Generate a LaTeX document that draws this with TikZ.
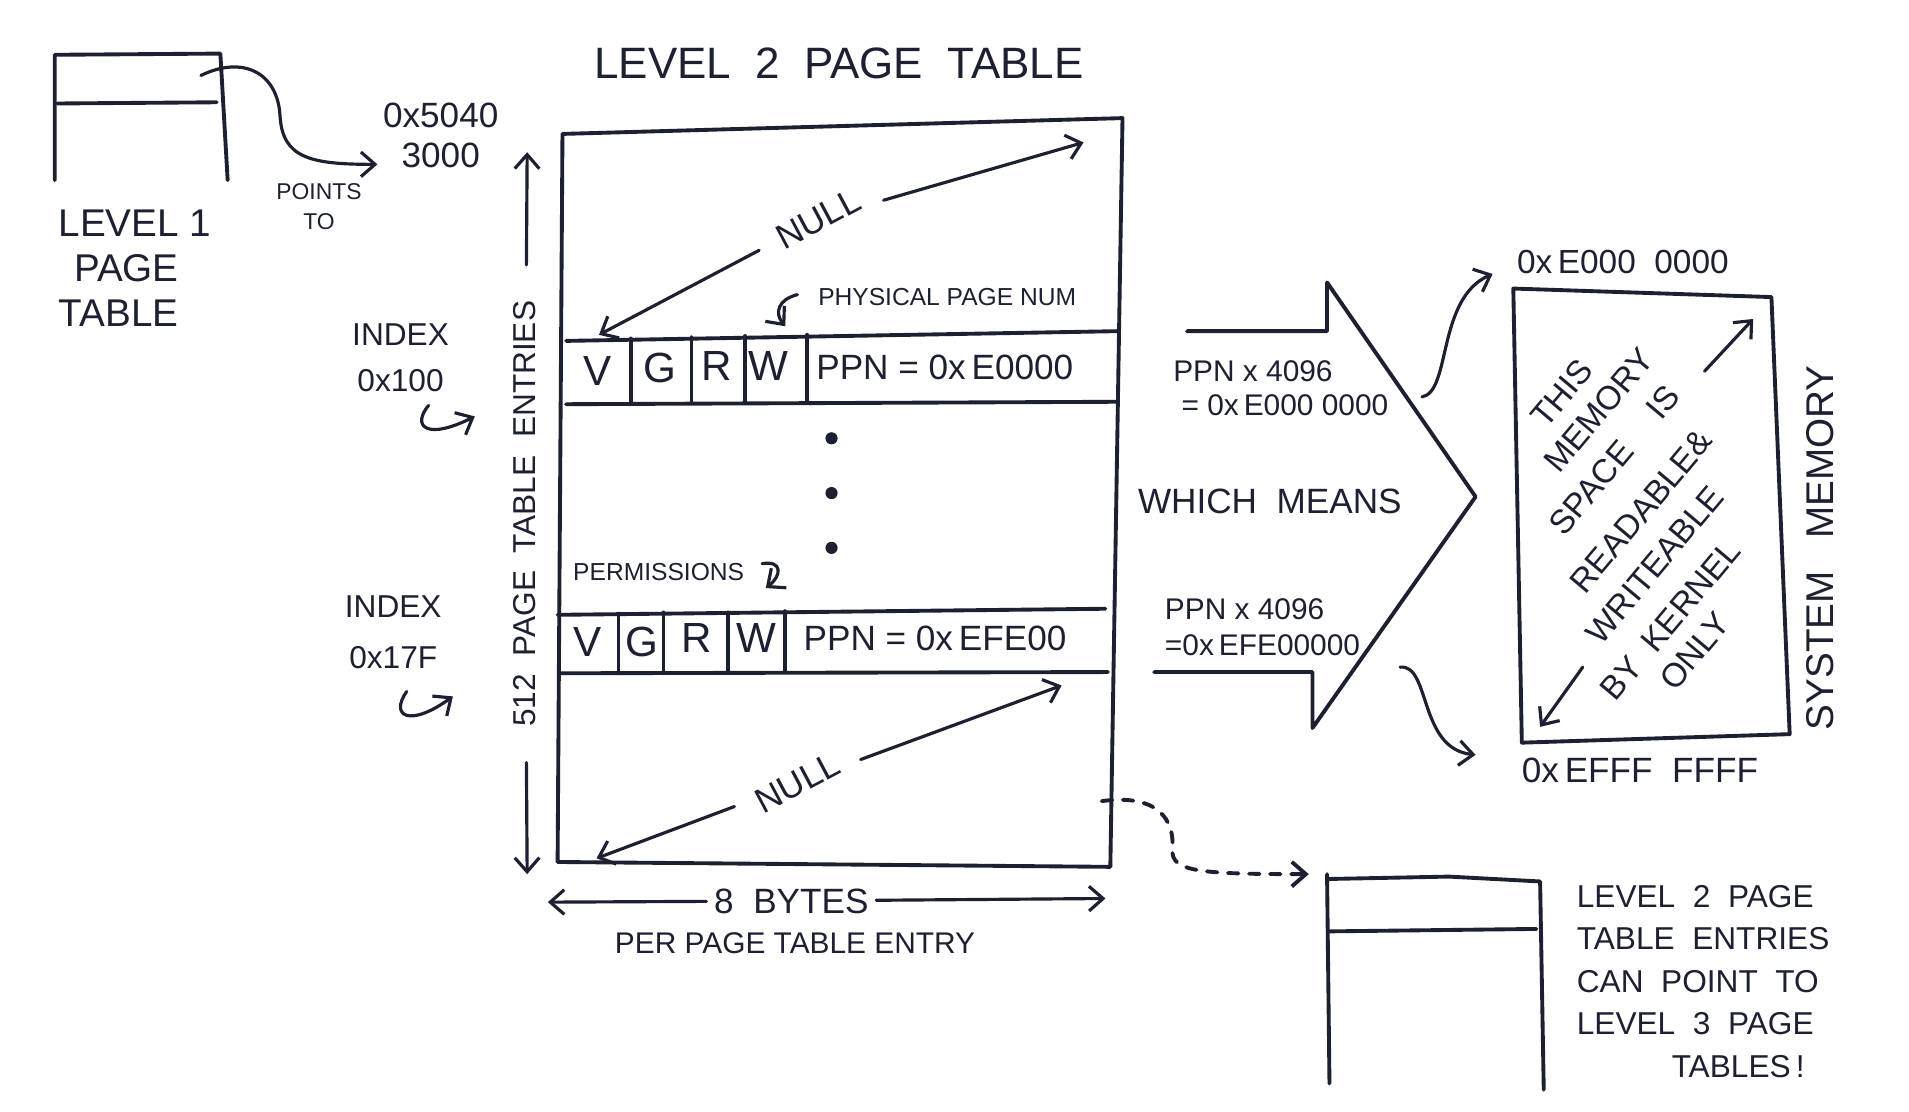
\documentclass[tikz,border=0pt]{standalone}
\usepackage{fontspec}
\setmainfont{Liberation Sans}
\usepackage{xcolor}
\usetikzlibrary{arrows.meta,calc}
\definecolor{ink}{RGB}{28,32,48}

\begin{document}
\begin{tikzpicture}[x=0.012175cm, y=-0.012175cm, color=ink,
    pen/.style={line width=1.1pt, line cap=round, line join=round},
    arr/.style={line width=0.9pt, line cap=round, -{Straight Barb[length=4pt,width=7pt]}},
    hand/.style={font=\fontsize{#1}{#1}\selectfont, inner sep=2pt},
    memtxt/.style={hand=9.5, rotate=50, inner sep=0pt}]
    \useasboundingbox (0,0) rectangle (1568,913);

    % Level 1
    \draw[pen] (45,148) -- (45,45) -- (181,44) -- (187,148);
    \draw[pen] (47,85) -- (178,84);
    \node[anchor=west, align=left, font=\fontsize{11}{12.8}\selectfont] (l1lbl) at (38,220)
        {LEVEL\ 1\\\hspace*{0.4em}PAGE\\TABLE};
    \node[align=center, font=\fontsize{6.5}{8.6}\selectfont] (pts) at (262,170) {POINTS\\TO};
    \node[align=center, font=\fontsize{10}{11.5}\selectfont] (addr) at (362,111) {0x5040\\3000};
    \coordinate (l1out) at (165,62);
    \coordinate (l1tip) at (310,135);
    \draw[arr] (l1out) .. controls (200,45) and (228,60) .. (230,95)
        .. controls (232,130) and (255,135) .. (l1tip);

    % Level 2
    \node[hand=12.5] (l2title) at (689,52) {LEVEL\ \ 2\ \ PAGE\ \ TABLE};
    \draw[pen] (462,110) -- (922,97) -- (912,712) -- (458,708) -- cycle;
    % entry 0x100
    \draw[pen] (465,280) -- (918,272);
    \draw[pen] (465,332) -- (918,330);
    \draw[pen] (518,278) -- (518,332) (568,277) -- (568,331) (612,276) -- (612,331) (663,275) -- (663,331);
    \node[hand=12] (v1) at (491,305) {V};
    \node[hand=12] (g1) at (542,302) {G};
    \node[hand=12] (r1) at (589,301) {R};
    \node[hand=12] (w1) at (631,301) {W};
    \node[hand=10] (ppn1) at (776,302) {PPN\ =\ 0x\,E0000};
    \node[hand=7] (ppnlbl) at (778,244) {PHYSICAL PAGE NUM};
    \coordinate (ppnhk) at (655,242);
    \coordinate (ppnhkend) at (645,268);
    \draw[arr] (ppnhk) .. controls (639,246) and (636,257) .. (ppnhkend);
    \foreach \y in {360,405,450} \fill (683,\y) circle (5);
    % entry 0x17F
    \node[hand=7] (perm) at (541,470) {PERMISSIONS};
    \coordinate (permhk) at (626,463);
    \coordinate (permhkend) at (629,483);
    \draw[arr] (permhk) .. controls (643,460) and (642,473) .. (permhkend);
    \draw[pen] (458,505) -- (908,500);
    \draw[pen] (460,553) -- (910,552);
    \draw[pen] (508,504) -- (508,553) (545,503) -- (545,553) (598,503) -- (598,552) (645,502) -- (645,552);
    \node[hand=12] (v2) at (483,527) {V};
    \node[hand=12] (g2) at (527,527) {G};
    \node[hand=12] (r2) at (572,524) {R};
    \node[hand=12] (w2) at (621,524) {W};
    \node[hand=10] (ppn2) at (768,524) {PPN\ =\ 0x\,EFE00};
    % null entries
    \node[hand=10, rotate=28, inner sep=6pt] (null1) at (672,180) {NULL};
    \coordinate (n1a) at (492,275);
    \coordinate (n1b) at (890,117);
    \draw[arr] (null1) -- (n1a);
    \draw[arr] (null1) -- (n1b);
    \node[hand=10, rotate=28, inner sep=6pt] (null2) at (655,643) {NULL};
    \coordinate (n2a) at (490,705);
    \coordinate (n2b) at (872,563);
    \draw[arr] (null2) -- (n2a);
    \draw[arr] (null2) -- (n2b);

    % indices
    \node[align=center, font=\fontsize{9}{13}\selectfont] (idx1) at (329,294) {INDEX\\0x100};
    \coordinate (idx1a) at (352,333);
    \coordinate (idx1b) at (390,342);
    \draw[arr] (idx1a) .. controls (338,350) and (350,362) .. (idx1b);
    \node[align=center, font=\fontsize{9}{14.5}\selectfont] (idx2) at (323,519) {INDEX\\0x17F};
    \coordinate (idx2a) at (334,568);
    \coordinate (idx2b) at (372,572);
    \draw[arr] (idx2a) .. controls (320,588) and (336,598) .. (idx2b);

    % dimensions
    \node[hand=9, rotate=90, inner xsep=10pt] (entries) at (431,422) {512\ \ PAGE\ \ TABLE\ \ ENTRIES};
    \coordinate (entop) at (433,125);
    \coordinate (enbot) at (433,718);
    \draw[arr] (entries) -- (entop);
    \draw[arr] (entries) -- (enbot);
    \node[hand=10] (bytes) at (650,740) {8\ \ BYTES};
    \coordinate (byl) at (450,741);
    \coordinate (byr) at (908,738);
    \draw[arr] (bytes) -- (byl);
    \draw[arr] (bytes) -- (byr);
    \node[hand=8.5] (perentry) at (653,775) {PER\ PAGE\ TABLE\ ENTRY};

    % Level 3
    \coordinate (l2link) at (905,658);
    \coordinate (l3in) at (1075,718);
    \draw[pen, dashed, -{Straight Barb[length=4pt,width=7pt]}] (l2link) .. controls (950,652) and (965,672) .. (963,698)
        .. controls (962,716) and (985,718) .. (l3in);
    \draw[pen] (1090,718) -- (1092,890);
    \draw[pen] (1090,722) -- (1190,720) -- (1265,724) -- (1268,895);
    \draw[pen] (1092,765) -- (1262,763);
    \node[anchor=west, align=left, font=\fontsize{9}{12.1}\selectfont] (l3note) at (1285,806)
        {LEVEL\ \ 2\ \ PAGE\\TABLE\ \ ENTRIES\\CAN\ \ POINT\ \ TO\\LEVEL\ \ 3\ \ PAGE\\\hspace*{3em}TABLES\,!};

    % which means
    \draw[pen] (975,272) -- (1090,272) -- (1090,232) -- (1212,408) -- (1078,598) -- (1078,552) -- (948,552);
    \node[align=left, font=\fontsize{8.5}{9.7}\selectfont] (calc1) at (1052,319) {PPN\ x\ 4096\\\ = 0x\,E000\ 0000};
    \node[hand=10] (which) at (1043,412) {WHICH\ \ MEANS};
    \node[align=left, font=\fontsize{8.5}{10.4}\selectfont] (calc2) at (1037,515) {PPN\ x\ 4096\\=0x\,EFE00000};
    \coordinate (c1a) at (1168,326);
    \coordinate (c1b) at (1226,225);
    \draw[arr] (c1a) .. controls (1192,322) and (1180,245) .. (c1b);
    \coordinate (c2a) at (1150,548);
    \coordinate (c2b) at (1212,620);
    \draw[arr] (c2a) .. controls (1175,545) and (1165,615) .. (c2b);

    % system memory
    \draw[pen] (1243,237) -- (1455,244) -- (1470,603) -- (1250,610) -- cycle;
    \node[hand=9.5] (memtop) at (1333,215) {0x\,E000\ \ 0000};
    \node[hand=10] (membot) at (1347,633) {0x\,EFFF\ \ FFFF};
    \node[hand=11, rotate=90] (sysmem) at (1495,450) {SYSTEM\ \ \ MEMORY};
    \node[memtxt] (mem1) at (1283,323) {THIS};
    \node[memtxt] (mem2) at (1313,337) {MEMORY};
    \node[memtxt] (mem3) at (1326,378) {SPACE\hspace{1.2em}IS};
    \node[memtxt] (mem4) at (1348,420) {READABLE\&};
    \node[memtxt] (mem5) at (1359,464) {WRITEABLE};
    \node[memtxt] (mem6) at (1372,509) {BY\ \ KERNEL};
    \node[memtxt] (mem7) at (1392,535) {ONLY};
    \coordinate (m1a) at (1400,305);
    \coordinate (m1b) at (1440,262);
    \draw[arr] (m1a) -- (m1b);
    \coordinate (m2a) at (1300,548);
    \coordinate (m2b) at (1265,597);
    \draw[arr] (m2a) -- (m2b);
\end{tikzpicture}
\end{document}
